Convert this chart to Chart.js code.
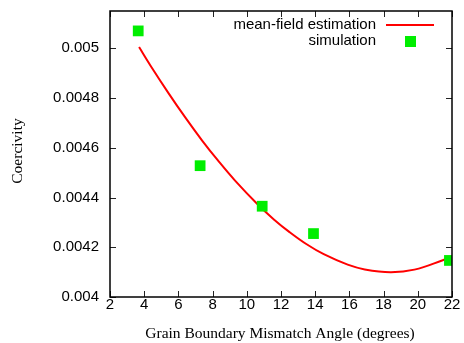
<!DOCTYPE html>
<html><head><meta charset="utf-8">
<script src="https://cdn.jsdelivr.net/npm/chart.js@4"></script>
<style>html,body{margin:0;padding:0;background:#fff;}#wrap{width:464px;height:343px;}</style>
</head><body><div id="wrap"><canvas id="c" width="464" height="343"></canvas></div>
<script>
// ---- data ----
const simAngles = [3.65, 7.27, 10.9, 13.9, 21.85];
const simCoercivity = [0.00507, 0.004528, 0.004365, 0.004255, 0.004147];

const fitAngles = [3.7, 4.4, 5.4, 6.4, 7.4, 8.3, 9.3, 10.6, 11.6, 12.5, 13.5, 14.5, 15.9, 16.9, 18.4, 19.8, 21.5, 21.75];
const fitCoercivity = [0.005005, 0.004927, 0.004822, 0.004722, 0.004628, 0.00455, 0.004469, 0.004375, 0.004311, 0.004261, 0.004212, 0.004172, 0.00413, 0.004111, 0.0041, 0.00411, 0.004149, 0.004157];

const xTicks = [2, 4, 6, 8, 10, 12, 14, 16, 18, 20, 22];
const yTicks = [0.004, 0.0042, 0.0044, 0.0046, 0.0048, 0.005];
const yTickLabels = ['0.004', '0.0042', '0.0044', '0.0046', '0.0048', '0.005'];

const seriesNames = ['mean-field estimation', 'simulation'];
const xTitle = 'Grain Boundary Mismatch Angle (degrees)';
const yTitle = 'Coercivity';

const RED = '#ff0000', GREEN = '#00ee00';
const SANS = '"Liberation Sans", Arial, Helvetica, sans-serif';
const SERIF = '"Liberation Serif", "Times New Roman", serif';

const framePlugin = {
  id: 'frame',
  afterDraw(chart) {
    const ctx = chart.ctx, a = chart.chartArea;
    const xs = chart.scales.x, ys = chart.scales.y;
    ctx.save();
    // inward ticks on all sides
    ctx.strokeStyle = '#222';
    ctx.lineWidth = 1;
    const tl = 6;
    xTicks.forEach(v => {
      const px = Math.round(xs.getPixelForValue(v)) + 0.5;
      ctx.beginPath();
      ctx.moveTo(px, a.bottom); ctx.lineTo(px, a.bottom - tl);
      ctx.moveTo(px, a.top); ctx.lineTo(px, a.top + tl);
      ctx.stroke();
    });
    yTicks.forEach(v => {
      const py = Math.round(ys.getPixelForValue(v)) + 0.5;
      ctx.beginPath();
      ctx.moveTo(a.left, py); ctx.lineTo(a.left + tl, py);
      ctx.moveTo(a.right, py); ctx.lineTo(a.right - tl, py);
      ctx.stroke();
    });
    // frame
    ctx.strokeStyle = '#000';
    ctx.lineWidth = 1.5;
    ctx.strokeRect(a.left, a.top, a.right - a.left, a.bottom - a.top);

    // axis titles
    ctx.fillStyle = '#000';
    ctx.font = '15.5px ' + SERIF;
    ctx.textAlign = 'center';
    ctx.textBaseline = 'middle';
    ctx.fillText(xTitle, (a.left + a.right) / 2 - 1, 334);
    ctx.save();
    ctx.translate(18, (a.top + a.bottom) / 2 - 3);
    ctx.rotate(-Math.PI / 2);
    ctx.fillText(yTitle, 0, 0);
    ctx.restore();

    // legend (top-right, inside)
    ctx.font = '15px ' + SANS;
    ctx.textAlign = 'right';
    ctx.textBaseline = 'middle';
    ctx.fillText(seriesNames[0], 376, 25);
    ctx.fillText(seriesNames[1], 376, 41);
    ctx.strokeStyle = RED;
    ctx.lineWidth = 2;
    ctx.beginPath(); ctx.moveTo(386, 25); ctx.lineTo(434, 25); ctx.stroke();
    ctx.fillStyle = GREEN;
    ctx.fillRect(405, 36, 11, 11);
    ctx.restore();
  }
};

new Chart(document.getElementById('c'), {
  type: 'scatter',
  data: {
    datasets: [
      {
        label: seriesNames[0],
        type: 'line',
        data: fitAngles.map((x, i) => ({ x, y: fitCoercivity[i] })),
        borderColor: RED,
        borderWidth: 2,
        pointRadius: 0,
        fill: false,
        tension: 0.4,
        order: 2
      },
      {
        label: seriesNames[1],
        data: simAngles.map((x, i) => ({ x, y: simCoercivity[i] })),
        pointStyle: 'rect',
        pointRadius: 7.6,
        pointHoverRadius: 7.6,
        backgroundColor: GREEN,
        borderWidth: 0,
        order: 1
      }
    ]
  },
  options: {
    responsive: false,
    devicePixelRatio: 1,
    animation: false,
    events: [],
    layout: { padding: { top: 11, right: 12, left: 0, bottom: 0 } },
    plugins: { legend: { display: false }, tooltip: { enabled: false } },
    scales: {
      x: {
        type: 'linear', min: 2, max: 22,
        grid: { display: false, drawTicks: false },
        border: { display: false },
        afterFit(s) { s.height = 46; s.paddingLeft = 0; s.paddingRight = 0; },
        afterBuildTicks(s) { s.ticks = xTicks.map(v => ({ value: v })); },
        ticks: { color: '#000', font: { family: SANS, size: 15 }, padding: -1, maxRotation: 0,
          callback: (v) => String(v) }
      },
      y: {
        type: 'linear', min: 0.004, max: 0.00515,
        grid: { display: false, drawTicks: false },
        border: { display: false },
        afterFit(s) { s.width = 110; s.paddingTop = 0; s.paddingBottom = 0; },
        afterBuildTicks(s) { s.ticks = yTicks.map(v => ({ value: v })); },
        ticks: { color: '#000', font: { family: SANS, size: 15 }, padding: 11,
          callback: (v) => { const i = yTicks.findIndex(t => Math.abs(t - v) < 1e-9); return i >= 0 ? yTickLabels[i] : ''; } }
      }
    }
  },
  plugins: [framePlugin]
});
</script>
</body></html>
